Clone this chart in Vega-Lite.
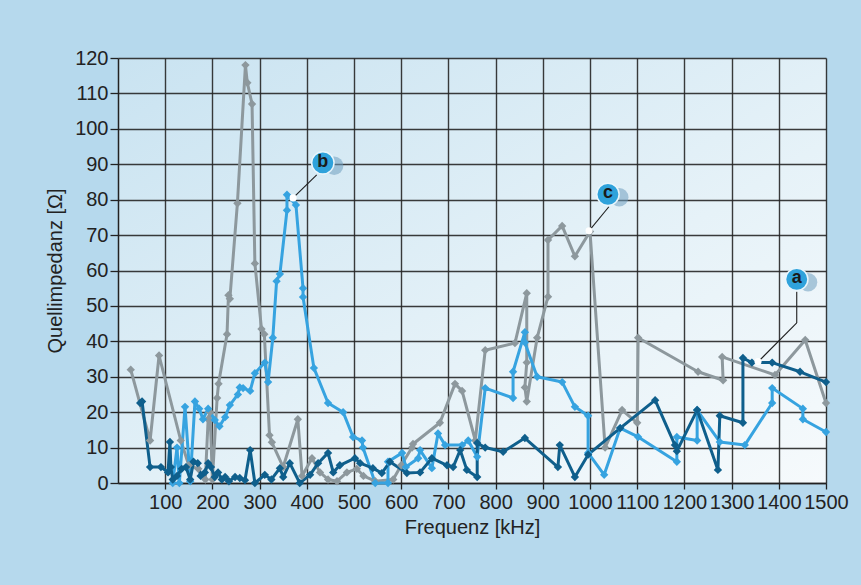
{
  "$schema": "https://vega.github.io/schema/vega-lite/v6.json",
  "width": 708,
  "height": 425,
  "autosize": {"type": "none"},
  "padding": {"left": 118, "top": 58, "right": 35, "bottom": 102},
  "background": "#b6d9ed",
  "config": {
    "font": "Liberation Sans",
    "view": {"stroke": null, "fill": {"gradient": "linear", "x1": 0, "y1": 0, "x2": 1, "y2": 1, "stops": [{"offset": 0, "color": "#c9e3f1"}, {"offset": 0.6, "color": "#e6f2f8"}, {"offset": 1, "color": "#f6fafc"}]}}
  },
  "datasets": {
    "series": [
      {"s":"c","x":27,"y":32},{"s":"c","x":68,"y":12},{"s":"c","x":87,"y":36},{"s":"c","x":133,"y":12},{"s":"c","x":150,"y":5},{"s":"c","x":170,"y":4},{"s":"c","x":185,"y":1},{"s":"c","x":191,"y":18},{"s":"c","x":195,"y":20},{"s":"c","x":200,"y":1},{"s":"c","x":210,"y":24},{"s":"c","x":213,"y":28},{"s":"c","x":231,"y":42},{"s":"c","x":234,"y":53},{"s":"c","x":237,"y":52},{"s":"c","x":253,"y":79},{"s":"c","x":270,"y":118},{"s":"c","x":274,"y":113},{"s":"c","x":284,"y":107},{"s":"c","x":290,"y":62},{"s":"c","x":304,"y":43.5},{"s":"c","x":310,"y":42},{"s":"c","x":321,"y":13.5},{"s":"c","x":326,"y":11.5},{"s":"c","x":350,"y":4.5},{"s":"c","x":381,"y":18},{"s":"c","x":390,"y":2},{"s":"c","x":411,"y":7},{"s":"c","x":428,"y":3},{"s":"c","x":445,"y":1},{"s":"c","x":464,"y":0.5},{"s":"c","x":485,"y":3},{"s":"c","x":506,"y":4},{"s":"c","x":520,"y":2},{"s":"c","x":545,"y":0.5},{"s":"c","x":583,"y":1},{"s":"c","x":600,"y":5},{"s":"c","x":623,"y":10},{"s":"c","x":625,"y":11},{"s":"c","x":682,"y":17},{"s":"c","x":714,"y":28},{"s":"c","x":729,"y":26},{"s":"c","x":757,"y":12},{"s":"c","x":778,"y":37.5},{"s":"c","x":841,"y":39.5},{"s":"c","x":866,"y":53.6},{"s":"c","x":866,"y":34},{"s":"c","x":862,"y":27},{"s":"c","x":866,"y":23},{"s":"c","x":888,"y":41},{"s":"c","x":911,"y":52.6},{"s":"c","x":911,"y":68.6},{"s":"c","x":941,"y":72.6},{"s":"c","x":968,"y":64},{"s":"c","x":1000,"y":71},{"s":"c","x":1032,"y":10},{"s":"c","x":1068,"y":20.6},{"s":"c","x":1100,"y":17},{"s":"c","x":1102,"y":41},{"s":"c","x":1229,"y":31.4},{"s":"c","x":1282,"y":29},{"s":"c","x":1280,"y":35.6},{"s":"c","x":1392,"y":30.5},{"s":"c","x":1456,"y":40.4},{"s":"c","x":1500,"y":22.6},
      {"s":"b","x":116,"y":0},{"s":"b","x":125,"y":10},{"s":"b","x":130,"y":0},{"s":"b","x":142,"y":21.5},{"s":"b","x":153,"y":0.5},{"s":"b","x":163,"y":23},{"s":"b","x":172,"y":21},{"s":"b","x":180,"y":18},{"s":"b","x":191,"y":21},{"s":"b","x":205,"y":17.8},{"s":"b","x":215,"y":16},{"s":"b","x":227,"y":18.6},{"s":"b","x":237,"y":22},{"s":"b","x":254,"y":25},{"s":"b","x":258,"y":27},{"s":"b","x":265,"y":26.8},{"s":"b","x":280,"y":26},{"s":"b","x":290,"y":31},{"s":"b","x":311,"y":34},{"s":"b","x":318,"y":28.5},{"s":"b","x":328,"y":41},{"s":"b","x":336,"y":57},{"s":"b","x":343,"y":59},{"s":"b","x":358,"y":77},{"s":"b","x":358,"y":81.4},{"s":"b","x":377,"y":78.5},{"s":"b","x":392,"y":55},{"s":"b","x":392,"y":52.5},{"s":"b","x":415,"y":32.5},{"s":"b","x":445,"y":22.6},{"s":"b","x":477,"y":20},{"s":"b","x":498,"y":13},{"s":"b","x":517,"y":12},{"s":"b","x":519,"y":10},{"s":"b","x":545,"y":0},{"s":"b","x":572,"y":0},{"s":"b","x":572,"y":6},{"s":"b","x":602,"y":8.5},{"s":"b","x":610,"y":4.5},{"s":"b","x":636,"y":7},{"s":"b","x":640,"y":9.3},{"s":"b","x":665,"y":4.2},{"s":"b","x":678,"y":14},{"s":"b","x":693,"y":10.7},{"s":"b","x":729,"y":10.7},{"s":"b","x":742,"y":12},{"s":"b","x":761,"y":7.4},{"s":"b","x":778,"y":26.8},{"s":"b","x":837,"y":24},{"s":"b","x":837,"y":31.4},{"s":"b","x":862,"y":42.6},{"s":"b","x":862,"y":39.7},{"s":"b","x":888,"y":30},{"s":"b","x":941,"y":28.5},{"s":"b","x":968,"y":21.5},{"s":"b","x":996,"y":19},{"s":"b","x":996,"y":8.5},{"s":"b","x":1030,"y":2.3},{"s":"b","x":1064,"y":15.5},{"s":"b","x":1102,"y":13},{"s":"b","x":1184,"y":6},{"s":"b","x":1184,"y":13},{"s":"b","x":1227,"y":12},{"s":"b","x":1227,"y":20.6},{"s":"b","x":1275,"y":11.6},{"s":"b","x":1328,"y":10.7},{"s":"b","x":1386,"y":22.6},{"s":"b","x":1386,"y":26.8},{"s":"b","x":1451,"y":21},{"s":"b","x":1451,"y":18},{"s":"b","x":1500,"y":14.4},
      {"s":"a","x":47,"y":22.6},{"s":"a","x":51,"y":23},{"s":"a","x":68,"y":4.5},{"s":"a","x":91,"y":4.5},{"s":"a","x":106,"y":3},{"s":"a","x":110,"y":11.6},{"s":"a","x":112,"y":4.5},{"s":"a","x":116,"y":1},{"s":"a","x":125,"y":2},{"s":"a","x":135,"y":4},{"s":"a","x":144,"y":4.5},{"s":"a","x":153,"y":1},{"s":"a","x":160,"y":6},{"s":"a","x":169,"y":5.6},{"s":"a","x":175,"y":2},{"s":"a","x":184,"y":3},{"s":"a","x":191,"y":5.6},{"s":"a","x":197,"y":4.5},{"s":"a","x":205,"y":1.7},{"s":"a","x":212,"y":3},{"s":"a","x":220,"y":1},{"s":"a","x":227,"y":1.7},{"s":"a","x":235,"y":0.5},{"s":"a","x":248,"y":1.7},{"s":"a","x":258,"y":1.4},{"s":"a","x":269,"y":0.8},{"s":"a","x":280,"y":9.3},{"s":"a","x":290,"y":0},{"s":"a","x":311,"y":2.3},{"s":"a","x":325,"y":1},{"s":"a","x":343,"y":4.2},{"s":"a","x":350,"y":1.7},{"s":"a","x":364,"y":5.6},{"s":"a","x":385,"y":0},{"s":"a","x":407,"y":2.3},{"s":"a","x":424,"y":5.6},{"s":"a","x":445,"y":8.5},{"s":"a","x":456,"y":3},{"s":"a","x":470,"y":5},{"s":"a","x":502,"y":7},{"s":"a","x":513,"y":5.6},{"s":"a","x":540,"y":4.2},{"s":"a","x":559,"y":2.8},{"s":"a","x":576,"y":6},{"s":"a","x":612,"y":2.8},{"s":"a","x":640,"y":3},{"s":"a","x":665,"y":7},{"s":"a","x":697,"y":5},{"s":"a","x":710,"y":4.5},{"s":"a","x":725,"y":9.3},{"s":"a","x":739,"y":3.7},{"s":"a","x":761,"y":1.7},{"s":"a","x":761,"y":11.3},{"s":"a","x":778,"y":10},{"s":"a","x":816,"y":8.8},{"s":"a","x":862,"y":12.7},{"s":"a","x":932,"y":4.5},{"s":"a","x":936,"y":10.7},{"s":"a","x":968,"y":1.7},{"s":"a","x":996,"y":8},{"s":"a","x":1064,"y":15.5},{"s":"a","x":1138,"y":23.4},{"s":"a","x":1180,"y":10.7},{"s":"a","x":1184,"y":9},{"s":"a","x":1227,"y":20.6},{"s":"a","x":1271,"y":3.7},{"s":"a","x":1275,"y":19},{"s":"a","x":1324,"y":17},{"s":"a","x":1324,"y":35.3},{"s":"a","x":1343,"y":34},{"s":"a","x":1386,"y":34},{"s":"a","x":1445,"y":31.4},{"s":"a","x":1500,"y":28.5}
    ],
    "leaders": [
      {"x":421,"y":87,"x2":371,"y2":80.5},
      {"x":1040,"y":78,"x2":998,"y2":71.2},
      {"x":1438,"y":54,"x2":1438,"y2":45.2},
      {"x":1438,"y":45.2,"x2":1356,"y2":34.2}
    ],
    "ends": [
      {"x":371,"y":80.5},{"x":998,"y":71.2},{"x":1356,"y":34.3}
    ],
    "shadows": [
      {"x":458,"y":89.6},{"x":1062,"y":80.7},{"x":1462,"y":56.7}
    ],
    "callouts": [
      {"label":"b","x":434,"y":90.4},
      {"label":"c","x":1038,"y":81.5},
      {"label":"a","x":1438,"y":57.5}
    ]
  },
  "encoding": {
    "x": {"field": "x", "type": "quantitative", "scale": {"domain": [0, 1500], "nice": false},
      "axis": {"values": [100,200,300,400,500,600,700,800,900,1000,1100,1200,1300,1400,1500], "format": "d", "title": "Frequenz [kHz]", "labelFlush": false, "labelOverlap": false, "labelBound": false,
        "domainColor": "#222", "domainWidth": 1.5, "tickColor": "#222", "tickWidth": 1.3, "tickSize": 6, "labelFontSize": 20, "labelColor": "#222", "labelPadding": 3,
        "titleFontSize": 20, "titleFontWeight": "normal", "titleColor": "#222", "titlePadding": 5, "gridColor": "#262626", "gridWidth": 1.4, "gridOpacity": 0.9}},
    "y": {"field": "y", "type": "quantitative", "scale": {"domain": [0, 120], "nice": false},
      "axis": {"values": [0,10,20,30,40,50,60,70,80,90,100,110,120], "format": "d", "title": "Quellimpedanz [Ω]", "labelFlush": false, "labelOverlap": false,
        "domainColor": "#222", "domainWidth": 1.5, "tickColor": "#222", "tickWidth": 1.3, "tickSize": 8, "labelFontSize": 20, "labelColor": "#222", "labelPadding": 2,
        "titleFontSize": 20, "titleFontWeight": "normal", "titleColor": "#222", "titlePadding": 9, "gridColor": "#262626", "gridWidth": 1.4, "gridOpacity": 0.9}}
  },
  "layer": [
    {
      "data": {"name": "series"},
      "mark": {"type": "line", "strokeWidth": 3, "strokeJoin": "round", "point": {"shape": "diamond", "filled": true, "size": 70}},
      "encoding": {
        "color": {"field": "s", "type": "nominal", "scale": {"domain": ["c", "b", "a"], "range": ["#8d989d", "#36a3e0", "#0f5f8c"]}, "legend": null},
        "order": {"value": null}
      }
    },
    {
      "data": {"name": "leaders"},
      "mark": {"type": "rule", "color": "#1e1e1e", "strokeWidth": 1.1},
      "encoding": {
        "x2": {"field": "x2"},
        "y2": {"field": "y2"}
      }
    },
    {
      "data": {"name": "ends"},
      "mark": {"type": "point", "shape": "circle", "filled": true, "color": "#ffffff", "size": 50, "opacity": 1}
    },
    {
      "data": {"name": "shadows"},
      "mark": {"type": "point", "shape": "circle", "filled": true, "color": "#6f9fc0", "size": 340, "opacity": 0.55}
    },
    {
      "data": {"name": "callouts"},
      "mark": {"type": "point", "shape": "circle", "filled": true, "fill": "#2fa2db", "stroke": "#eaf6fc", "strokeWidth": 1.5, "size": 500, "opacity": 1}
    },
    {
      "data": {"name": "callouts"},
      "mark": {"type": "text", "fontSize": 18, "fontWeight": "bold", "color": "#1a1a1a", "baseline": "middle", "align": "center", "dy": -1},
      "encoding": {
        "text": {"field": "label"}
      }
    }
  ]
}
